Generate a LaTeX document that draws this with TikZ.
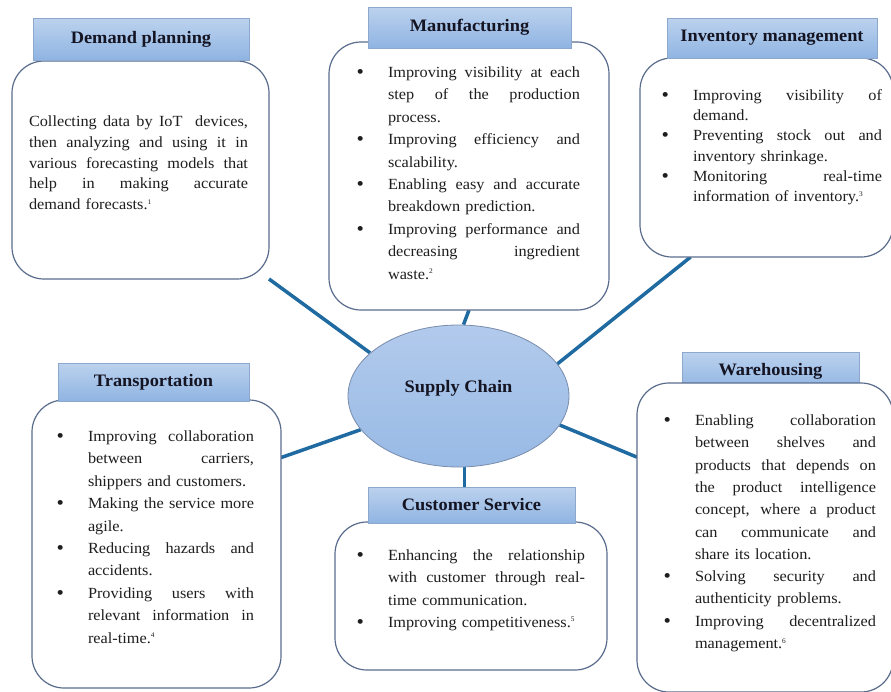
\documentclass[tikz,border=0pt]{standalone}
\usepackage{fontspec}
\setmainfont{Liberation Serif}[FakeStretch=1.05]
\usetikzlibrary{calc,shapes.geometric}
\pgfdeclarelayer{bg}
\pgfsetlayers{bg,main}
\definecolor{conn}{RGB}{31,106,160}
\definecolor{boxline}{RGB}{90,108,140}
\definecolor{hdtop}{RGB}{188,210,238}
\definecolor{hdbot}{RGB}{143,180,226}
\definecolor{hdline}{RGB}{140,168,205}
\definecolor{elltop}{RGB}{178,202,236}
\definecolor{ellbot}{RGB}{152,186,229}
\definecolor{ellline}{RGB}{120,140,172}
\definecolor{txt}{RGB}{30,30,30}
\definecolor{htxt}{RGB}{20,20,35}
\newcommand\jline[1]{\leavevmode\hbox to\hsize{\spaceskip=0.25em plus 1fil\xspaceskip=0.25em plus 1fil\relax #1}\par}
\newcommand\bitem{\leavevmode\llap{\raisebox{-1pt}{\fontsize{20}{20}\selectfont\textbullet}\hspace{24pt}}}
\newcommand\supn[1]{\raisebox{5.5pt}{\fontsize{7}{7}\selectfont #1}}
\tikzset{
 panel/.style={draw=boxline, line width=1.2pt, fill=white, rounded corners=32pt, inner sep=0pt, outer sep=0pt, anchor=north west},
 head/.style={draw=hdline, line width=0.8pt, top color=hdtop, bottom color=hdbot, inner sep=0pt, outer sep=0pt, anchor=north west, font=\fontsize{17.5}{19}\selectfont\bfseries, text=htxt},
 body/.style={anchor=base west, inner sep=0pt, outer sep=0pt, text=txt},
 link/.style={draw=conn, line width=3.5pt},
}
\begin{document}
\begin{tikzpicture}[x=1pt,y=-1pt]
\useasboundingbox (0,0) rectangle (891,691);
\begin{pgfonlayer}{bg}
\fill[white] (0,0) rectangle (891,691);
\end{pgfonlayer}
% warehousing header below its box
\node[head, minimum width=177pt, minimum height=38pt] (whh) at (682,352) {Warehousing};
% panels
\node[panel, minimum width=257pt, minimum height=218pt] (dpb) at (12,61) {};
\node[panel, minimum width=280pt, minimum height=268pt] (mfb) at (329,42) {};
\node[panel, minimum width=253pt, minimum height=199pt] (ivb) at (640,58) {};
\node[panel, minimum width=249pt, minimum height=288pt] (tpb) at (32,400) {};
\node[panel, minimum width=272pt, minimum height=148pt] (csb) at (335,522) {};
\node[panel, minimum width=256pt, minimum height=309pt] (whb) at (637,383) {};
% headers
\node[head, minimum width=216pt, minimum height=42pt] (dph) at (33,18) {Demand planning};
\node[head, minimum width=203pt, minimum height=41pt] (mfh) at (368,7) {Manufacturing};
\node[head, minimum width=210pt, minimum height=40pt] (ivh) at (667,18) {Inventory management};
\node[head, minimum width=191pt, minimum height=38pt] (tph) at (58,363) {Transportation};
\node[head, minimum width=207pt, minimum height=36pt] (csh) at (368,487) {Customer Service};
% centre
\node[ellipse, draw=ellline, line width=0.8pt, top color=elltop, bottom color=ellbot, minimum width=221pt, minimum height=142pt, inner sep=0pt, font=\fontsize{17.5}{19}\selectfont\bfseries, text=htxt] (sc) at (458.5,396) {\raisebox{4pt}[0pt][0pt]{Supply Chain}};
% connectors
\begin{pgfonlayer}{bg}
\draw[link] (sc.154) -- (dpb.south east);
\draw[link] (sc.86) -- (mfb.south);
\draw[link] (sc.18) -- ($(ivb.south west)!0.2!(ivb.south east)$);
\draw[link] (sc.199) -- ($(tpb.north east)!0.2!(tpb.south east)$);
\draw[link] (sc.-85) -- (sc.-85 |- csh.north);
\draw[link] (sc.-16) -- ($(whb.north west)!0.24!(whb.south west)$);
\end{pgfonlayer}
% texts
\node[body, text width=219pt, font=\fontsize{15.5}{20.8}\selectfont] (dpt) at (29,126.5) {%
\jline{Collecting data by IoT\ \ devices,}
\jline{then analyzing and using it in}
\jline{various forecasting models that}
\jline{help in making accurate}
demand forecasts.\supn{1}\par};
\node[body, text width=192pt, font=\fontsize{15.5}{22.4}\selectfont] (mft) at (388,77.5) {%
\jline{\bitem Improving visibility at each}
\jline{step of the production}
process.\par
\jline{\bitem Improving efficiency and}
scalability.\par
\jline{\bitem Enabling easy and accurate}
breakdown prediction.\par
\jline{\bitem Improving performance and}
\jline{decreasing ingredient}
waste.\supn{2}\par};
\node[body, text width=189pt, font=\fontsize{15.5}{20.2}\selectfont] (ivt) at (693,100.5) {%
\jline{\bitem Improving visibility of}
demand.\par
\jline{\bitem Preventing stock out and}
inventory shrinkage.\par
\jline{\bitem Monitoring real-time}
information of inventory.\supn{3}\par};
\node[body, text width=166pt, font=\fontsize{15.5}{22.4}\selectfont] (tpt) at (88,441.5) {%
\jline{\bitem Improving collaboration}
\jline{between carriers,}
shippers and customers.\par
\jline{\bitem Making the service more}
agile.\par
\jline{\bitem Reducing hazards and}
accidents.\par
\jline{\bitem Providing users with}
\jline{relevant information in}
real-time.\supn{4}\par};
\node[body, text width=197pt, font=\fontsize{15.5}{22.3}\selectfont] (cst) at (388,560.5) {%
\jline{\bitem Enhancing the relationship}
\jline{with customer through real-}
time communication.\par
\bitem Improving competitiveness.\supn{5}\par};
\node[body, text width=181pt, font=\fontsize{15.5}{22.3}\selectfont] (wht) at (695,425.5) {%
\jline{\bitem Enabling collaboration}
\jline{between shelves and}
\jline{products that depends on}
\jline{the product intelligence}
\jline{concept, where a product}
\jline{can communicate and}
share its location.\par
\jline{\bitem Solving security and}
authenticity problems.\par
\jline{\bitem Improving decentralized}
management.\supn{6}\par};
\end{tikzpicture}
\end{document}
